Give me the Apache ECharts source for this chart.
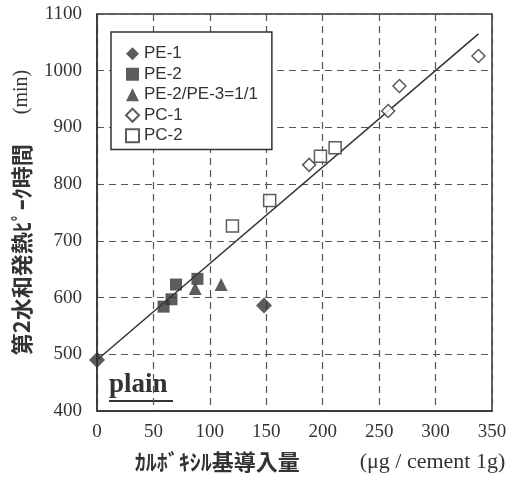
<!DOCTYPE html>
<html>
<head>
<meta charset="utf-8">
<script src="https://cdn.jsdelivr.net/npm/echarts@6/dist/echarts.min.js"></script>
<style>
  html, body { margin: 0; padding: 0; background: #fff; }
  #chart { width: 525px; height: 480px; }
</style>
</head>
<body>
<div id="chart"></div>
<script>
// values: [carboxyl amount, peak time]
const pe1 = [[0, 490], [148, 586]];
const pe2 = [[59, 584], [66, 597], [70, 623], [89, 633]];
const pe2pe3 = [[87, 616], [110, 623]];
const pc1 = [[188, 834], [258, 929], [268, 973], [338, 1026]];
const pc2 = [[120, 726], [153, 771], [198, 849], [211, 864]];
const fitLine = [[0, 490], [338, 1065]];

const xTicks = { min: 0, max: 350, interval: 50 };
const yTicks = { min: 400, max: 1100, interval: 100 };

const ink = '#333';
const serif = '"Liberation Serif", "DejaVu Serif", serif';
const jp = '"Noto Sans CJK JP", sans-serif';

const filled = (name, symbol, size, data) => ({
  name, type: 'scatter', symbol, symbolSize: size, data, z: 5,
  itemStyle: { color: ink }
});
const hollow = (name, symbol, size, data) => ({
  name, type: 'scatter', symbol, symbolSize: size, data, z: 5,
  itemStyle: { color: '#fff', borderColor: ink, borderWidth: 1.5 }
});

const chart = echarts.init(document.getElementById('chart'));
chart.setOption({
  backgroundColor: '#fff',
  animation: false,
  grid: { left: 97, right: 33, top: 14, bottom: 69, show: true, borderColor: ink, borderWidth: 1.5 },
  legend: {
    data: ['PE-1', 'PE-2', 'PE-2/PE-3=1/1', 'PC-1', 'PC-2'],
    orient: 'vertical',
    left: 111, top: 32,
    padding: [13, 14, 5, 14],
    itemGap: 3,
    itemWidth: 13, itemHeight: 13,
    borderColor: ink, borderWidth: 1.5,
    backgroundColor: '#fff',
    textStyle: { fontFamily: '"Liberation Sans", Arial, sans-serif', fontSize: 17, color: ink, lineHeight: 17.5 }
  },
  xAxis: {
    type: 'value', ...xTicks,
    name: '{jp|ｶﾙﾎﾞｷｼﾙ基導入量}{sp|            }{en|(μg / cement 1g)}',
    nameLocation: 'middle', nameGap: 40,
    nameTextStyle: {
      padding: [0, 0, 0, 51],
      rich: {
        jp: { fontFamily: jp, fontWeight: 'bold', fontSize: 22, color: ink },
        sp: { fontSize: 18 },
        en: { fontFamily: serif, fontSize: 22, color: ink }
      }
    },
    axisLine: { show: true, lineStyle: { color: ink, width: 1.5 } },
    axisTick: { show: false },
    axisLabel: { fontFamily: serif, fontSize: 19, color: ink, margin: 12 },
    splitLine: { show: true, lineStyle: { color: '#555', type: [7, 5], width: 1.2 } }
  },
  yAxis: {
    type: 'value', ...yTicks,
    name: '{jp|第2水和発熱ﾋﾟｰｸ時間}{sp|      }{en|(min)}',
    nameLocation: 'middle', nameGap: 62, nameRotate: 90,
    nameTextStyle: {
      rich: {
        jp: { fontFamily: jp, fontWeight: 'bold', fontSize: 22, color: ink },
        sp: { fontSize: 18 },
        en: { fontFamily: serif, fontSize: 20, color: ink }
      }
    },
    axisLine: { show: true, lineStyle: { color: ink, width: 1.5 } },
    axisTick: { show: false },
    axisLabel: { fontFamily: serif, fontSize: 19, color: ink, margin: 15, formatter: v => String(v) },
    splitLine: { show: true, lineStyle: { color: '#555', type: [7, 5], width: 1.2 } }
  },
  graphic: [
    {
      type: 'text', left: 109, top: 372,
      style: { text: 'plain', font: 'bold 27px "Liberation Serif", serif', fill: ink }
    },
    {
      type: 'line', shape: { x1: 109, y1: 401, x2: 173, y2: 401 },
      style: { stroke: ink, lineWidth: 2 }
    }
  ],
  series: [
    {
      name: 'fit', type: 'line', data: fitLine, symbol: 'none', z: 3,
      lineStyle: { color: ink, width: 1.5 }, silent: true
    },
    filled('PE-1', 'diamond', 16, pe1),
    filled('PE-2', 'rect', 12, pe2),
    filled('PE-2/PE-3=1/1', 'triangle', 13, pe2pe3),
    hollow('PC-1', 'diamond', 13, pc1),
    hollow('PC-2', 'rect', 12, pc2)
  ]
});
</script>
</body>
</html>
